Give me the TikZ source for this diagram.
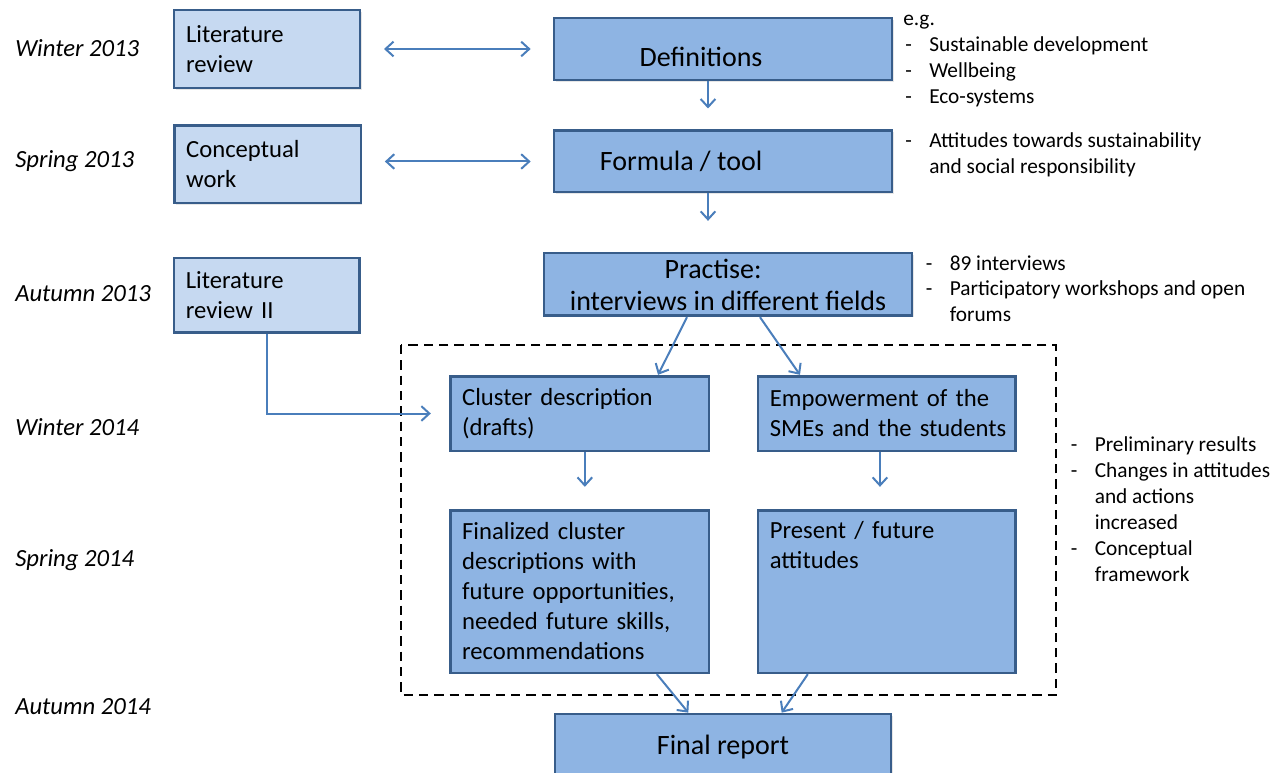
\documentclass[tikz,border=0pt]{standalone}
\usepackage{fontspec}
\setmainfont{Carlito}
\usetikzlibrary{arrows.meta,shadows}

\definecolor{boxline}{HTML}{385D8A}
\definecolor{lightfill}{HTML}{C6D9F1}
\definecolor{mainfill}{HTML}{8EB4E3}
\definecolor{arrowblue}{HTML}{4A7EBB}

\newcommand{\sidedash}{\makebox[19.5pt][l]{\hspace{1.5pt}-}}

\tikzset{
  box/.style={draw=boxline, line width=2pt,
    drop shadow={shadow xshift=1.2pt, shadow yshift=-1.2pt, opacity=0.2}},
  small/.style={font=\fontsize{18.5}{22.5}\selectfont},
  big/.style={font=\fontsize{21}{24}\selectfont},
  lbox/.style={box, fill=lightfill, align=left, inner xsep=9pt, small},
  sbox/.style={box, fill=mainfill, align=left, inner xsep=9pt, inner ysep=2pt, small},
  mbox/.style={box, fill=mainfill, align=center, inner ysep=1pt, big},
  season/.style={anchor=west, inner sep=0pt, font=\fontsize{18.5}{22.5}\selectfont\itshape},
  side/.style={anchor=base west, align=left, inner sep=0pt, font=\fontsize{16}{19.5}\selectfont},
  arr/.style={draw=arrowblue, line width=1.5pt},
}

\begin{document}
\begin{tikzpicture}[x=0.75pt, y=-0.75pt, >={Straight Barb[length=6pt,width=11pt]}]
\useasboundingbox (0,0) rectangle (1284,773);

% seasons
\node[season] (w13) at (15,48) {Winter 2013};
\node[season] (s13) at (15,161) {Spring 2013};
\node[season] (a13) at (15,294) {Autumn 2013};
\node[season] (w14) at (15,427) {Winter 2014};
\node[season] (s14) at (15,560) {Spring 2014};
\node[season] (a14) at (15,707) {Autumn 2014};

% left column
\node[lbox, text width=121.5pt, minimum height=58.5pt] (lit) at (267,49) {Literature\\review};
\node[lbox, text width=122pt, minimum height=58pt] (cw) at (267.5,164.5) {Conceptual\\work};
\node[lbox, text width=121pt, minimum height=56pt] (lit2) at (266.5,295.5) {Literature\\review II};

% main column
\node[mbox, minimum width=253.5pt, minimum height=46.5pt, text height=26pt, text depth=0pt] (def) at (723,49) {Definitions\hspace{33pt}};
\node[mbox, minimum width=253.5pt, minimum height=46pt] (form) at (723,161.5) {Formula / tool\hspace{63pt}};
\node[mbox, minimum width=276pt, minimum height=47pt] (pr) at (728,284.5) {Practise:\hspace*{22.5pt}\\interviews in different fields};

\node[sbox, text width=176pt, minimum height=56pt] (cl) at (579.5,413.5) {Cluster description\\(drafts)};
\node[sbox, text width=175pt, minimum height=56pt] (emp) at (886.5,413.5) {Empowerment of the\\\mbox{SMEs and the students}};
\node[sbox, text width=176pt, minimum height=122pt] (fin) at (579.5,591.5) {Finalized cluster\\descriptions with\\future opportunities,\\needed future skills,\\recommendations};
\node[sbox, text width=175pt, text height=19pt, text depth=99pt] (pres) at (886.5,591.5) {Present / future\\attitudes};

\node[mbox, minimum width=252pt, minimum height=49.5pt] (rep) at (723,747) {Final report};

\draw[line width=2pt, dash pattern=on 7pt off 4.5pt] (401,345) rectangle (1056,695);

% notes on the right (placed by the baseline of their last line)
\node[side] (n1) at (903,104) {e.g.\\\sidedash Sustainable development\\\sidedash Wellbeing\\\sidedash Eco-systems};
\node[side] (n2) at (903,174) {\sidedash Attitudes towards sustainability\\\hspace*{19.5pt}and social responsibility};
\node[side] (n3) at (923.5,322) {\sidedash 89 interviews\\\sidedash Participatory workshops and open\\\hspace*{19.5pt}forums};
\node[side] (n4) at (1068.5,581) {\sidedash Preliminary results\\\sidedash Changes in attitudes\\\hspace*{19.5pt}and actions\\\hspace*{19.5pt}increased\\\sidedash Conceptual\\\hspace*{19.5pt}framework};

% arrows
\draw[arr, <->, shorten <=17pt, shorten >=16.5pt] (lit.east) -- (lit.east -| def.west);
\draw[arr, <->, shorten <=17pt, shorten >=16.5pt] (cw.east |- form.west) -- (form.west);
\draw[arr, ->, shorten >=15.75pt] ([xshift=-11.25pt]def.south) -- ([xshift=-11.25pt]form.north);
\draw[arr, ->, shorten >=23.25pt] ([xshift=-11.25pt]form.south) -- ([xshift=-15pt]pr.north);
\draw[arr, ->] ([xshift=-30.75pt]pr.south) -- ([xshift=58.9pt]cl.north);
\draw[arr, ->] ([xshift=24pt]pr.south) -- ([xshift=-64.9pt]emp.north);
\draw[arr, ->] (lit2.south) |- ([xshift=-13.5pt]cl.west);
\draw[arr, ->, shorten >=16.5pt] ([xshift=4pt]cl.south) -- ([xshift=4pt]fin.north);
\draw[arr, ->, shorten >=16.5pt] ([xshift=-4.9pt]emp.south) -- ([xshift=-4.9pt]pres.north);
\draw[arr, ->] ([xshift=58pt]fin.south) -- ([xshift=-26pt]rep.north);
\draw[arr, ->] ([xshift=-59pt]pres.south) -- ([xshift=44pt]rep.north);

\end{tikzpicture}
\end{document}
